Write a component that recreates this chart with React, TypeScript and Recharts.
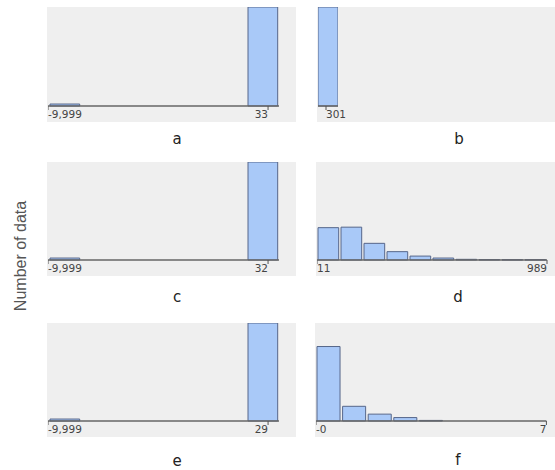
import { Bar, BarChart, XAxis, YAxis } from "recharts";

// bin heights, as a share of each panel's tallest bin
const countsA = [2, 0, 0, 0, 0, 0, 100];
const countsB = [100];
const countsC = [2, 0, 0, 0, 0, 0, 100];
const countsD = [33, 33.5, 17, 8.5, 4, 2, 0.7, 0.4, 0.3, 0.3];
const countsE = [2, 0, 0, 0, 0, 0, 100];
const countsF = [76, 15, 7, 3.5, 0.6, 0, 0, 0, 0];

// x range covered by each panel's bins, and the ticks shown on it
const domainA = [-9999, 532];
const domainB = [293, 313];
const domainC = [-9999, 531];
const domainD = [11, 989];
const domainE = [-9999, 527];
const domainF = [0, 7];

const ticksA = [-9999, 33];
const ticksB = [301];
const ticksC = [-9999, 32];
const ticksD = [11, 989];
const ticksE = [-9999, 29];
const ticksF = [0, 7];

const tickLabelsA = ["-9,999", "33"];
const tickLabelsB = ["301"];
const tickLabelsC = ["-9,999", "32"];
const tickLabelsD = ["11", "989"];
const tickLabelsE = ["-9,999", "29"];
const tickLabelsF = ["-0", "7"];

const panelLetters = ["a", "b", "c", "d", "e", "f"];

const FILL = "#a9c9f8";
const STROKE = "#56668a";
const BG = "#efefef";
const SPARE = 30; // room to the right of the bins for tick labels

type PanelProps = {
  counts: number[];
  domain: number[];
  ticks: number[];
  tickLabels: string[];
  letter: string;
  left: number;
  top: number;
  plotHeight: number;
  binWidth: number;
  bgWidth: number;
  letterX: number;
  letterY: number;
};

function Panel(props: PanelProps) {
  const [lo, hi] = props.domain;
  const n = props.counts.length;
  const step = (hi - lo) / n;
  // each bin sits at its centre on the value axis
  const data = props.counts.map((c, i) => ({ mid: lo + (i + 0.5) * step, c }));
  const width = n * props.binWidth;

  const renderTick = (p: any) => {
    const label = props.tickLabels[p.index] ?? String(p.payload.value);
    return (
      <text
        x={p.x}
        y={p.y}
        dy="0.71em"
        textAnchor={p.index === 0 ? "start" : "end"}
        fontSize={10.5}
        fontFamily="DejaVu Sans"
        fill="#444"
      >
        {label}
      </text>
    );
  };

  return (
    <>
      <div
        style={{
          position: "absolute",
          left: props.left - 1,
          top: props.top,
          width: props.bgWidth,
          height: props.plotHeight + 16,
          background: BG,
        }}
      />
      <div style={{ position: "absolute", left: props.left, top: props.top }}>
        <BarChart
          width={width + SPARE}
          height={props.plotHeight + 22}
          data={data}
          margin={{ top: 0, right: SPARE, bottom: 0, left: 0 }}
        >
          <XAxis
            dataKey="mid"
            type="number"
            domain={props.domain}
            ticks={props.ticks}
            allowDataOverflow
            axisLine={{ stroke: "#666", strokeWidth: 1.5 }}
            tickLine={{ stroke: "#555" }}
            tickSize={4}
            tickMargin={1}
            height={22}
            tick={renderTick}
            interval={0}
          />
          <YAxis hide domain={[0, 100]} />
          <Bar
            dataKey="c"
            barSize={props.binWidth}
            fill={FILL}
            stroke={STROKE}
            strokeWidth={1}
            isAnimationActive={false}
          />
        </BarChart>
      </div>
      <div
        style={{
          position: "absolute",
          left: props.letterX - 20,
          top: props.letterY - 10,
          width: 40,
          textAlign: "center",
          fontFamily: "DejaVu Sans",
          fontSize: 15,
          lineHeight: "20px",
          color: "#222",
        }}
      >
        {props.letter}
      </div>
    </>
  );
}

export default function App() {
  return (
    <div
      style={{
        position: "absolute",
        left: 0,
        top: 0,
        width: 555,
        height: 470,
        background: "#fff",
        overflow: "hidden",
      }}
    >
      <div
        style={{
          position: "absolute",
          left: 21 - 70,
          top: 256 - 10,
          width: 140,
          height: 20,
          lineHeight: "20px",
          textAlign: "center",
          transform: "rotate(-90deg)",
          fontFamily: "Liberation Sans",
          fontSize: 16,
          color: "#555",
        }}
      >
        Number of data
      </div>

      <Panel counts={countsA} domain={domainA} ticks={ticksA} tickLabels={tickLabelsA}
        letter={panelLetters[0]} left={48} top={7} plotHeight={99} binWidth={33}
        bgWidth={249} letterX={177} letterY={139} />
      <Panel counts={countsB} domain={domainB} ticks={ticksB} tickLabels={tickLabelsB}
        letter={panelLetters[1]} left={318} top={7} plotHeight={99} binWidth={20}
        bgWidth={240} letterX={459} letterY={139} />
      <Panel counts={countsC} domain={domainC} ticks={ticksC} tickLabels={tickLabelsC}
        letter={panelLetters[2]} left={48} top={162} plotHeight={98} binWidth={33}
        bgWidth={249} letterX={177} letterY={297} />
      <Panel counts={countsD} domain={domainD} ticks={ticksD} tickLabels={tickLabelsD}
        letter={panelLetters[3]} left={317} top={162} plotHeight={98} binWidth={23}
        bgWidth={240} letterX={458} letterY={297} />
      <Panel counts={countsE} domain={domainE} ticks={ticksE} tickLabels={tickLabelsE}
        letter={panelLetters[4]} left={48} top={323} plotHeight={98} binWidth={33}
        bgWidth={249} letterX={177} letterY={461} />
      <Panel counts={countsF} domain={domainF} ticks={ticksF} tickLabels={tickLabelsF}
        letter={panelLetters[5]} left={316} top={323} plotHeight={98} binWidth={25.6}
        bgWidth={240} letterX={458} letterY={460} />
    </div>
  );
}
